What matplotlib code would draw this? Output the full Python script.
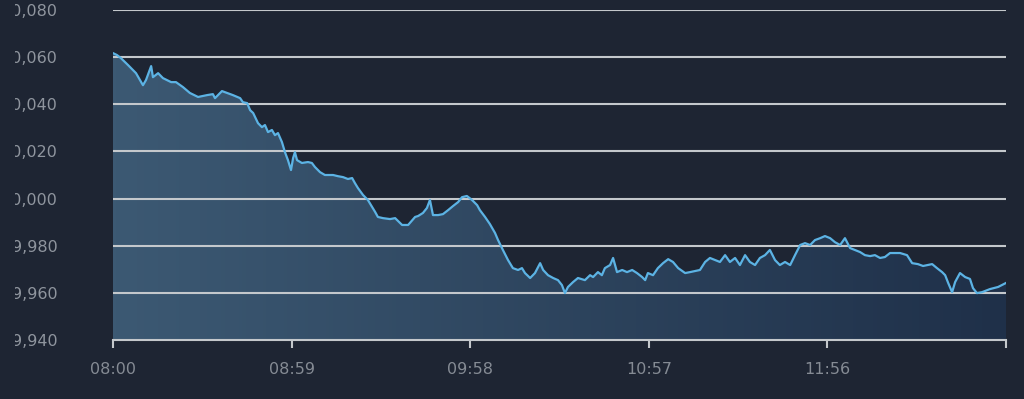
import numpy as np
import matplotlib
matplotlib.use("Agg")
import matplotlib.pyplot as plt
from matplotlib.colors import LinearSegmentedColormap
from matplotlib.patches import Rectangle

# minutes after 08:00 and price values
minutes = [
    0, 1.3, 2.6, 5, 7.6, 9.9, 10.9, 11.9, 12.6, 13.2, 14.9, 16.5, 19.2, 20.8, 23.1,
    25.4, 28.1, 31.1, 33, 33.7, 36, 37.7, 39.6, 42, 42.9, 44.3, 45.3, 46.3, 47.9,
    49.2, 50.2, 51.2, 52.5, 53.5, 54.5, 55.8, 56.8, 57.8, 58.8, 59.5, 60.1, 60.8,
    62.4, 64.4, 65.7, 66.7, 68.4, 70, 72.7, 74.3, 76, 77.6, 79, 79.9, 80.9, 82.6,
    84.2, 85.6, 86.6, 87.5, 89.2, 91.5, 93.2, 95.5, 97.5, 99.8, 100.8, 102.4, 103.7,
    104.7, 105.7, 107.4, 109, 110.7, 112.3, 114, 115.3, 116.9, 118.6, 120.3, 121.2,
    122.9, 124.5, 126.2, 127.2, 128.8, 130.5, 132.1, 133.8, 135.1, 136.1, 137.8,
    139.4, 141.1, 142.1, 143.7, 145.4, 147, 148.3, 149.3, 150.3, 152, 153.6, 155.9,
    157.6, 158.6, 160.2, 161.5, 162.5, 164.2, 165.2, 166.5, 168.2, 169.8, 171.5,
    173.1, 174.8, 175.8, 176.7, 178.4, 180, 181.7, 183.4, 185, 186.7, 189, 190.6,
    193.9, 195.6, 197.2, 200.5, 202.2, 203.8, 205.5, 207.1, 208.8, 210.4, 212.1,
    213.7, 215.4, 217, 218.7, 220.3, 222, 223.7, 225.3, 227, 228.6, 230.3, 231.9,
    233.6, 235.2, 236.9, 238.5, 240.2, 241.8, 243.5, 245.1, 246.8, 248.4, 250.1,
    251.7, 253.4, 255, 256.7, 260, 262.3, 264, 265.9, 267.6, 270.6, 272.2, 273.9,
    274.9, 275.9, 277.2, 278.2, 279.8, 281.5, 283.1, 284.1, 285.4, 287.1, 289.7,
    292.4, 295,
]
prices = [
    10.0617, 10.0609, 10.0596, 10.0566, 10.0532, 10.0481, 10.0503, 10.0537, 10.0562,
    10.0515, 10.0532, 10.0511, 10.0494, 10.0494, 10.0473, 10.0448, 10.0431, 10.0439,
    10.0443, 10.0426, 10.0456, 10.0448, 10.0439, 10.0426, 10.0409, 10.0405, 10.0375,
    10.0363, 10.0320, 10.0303, 10.0312, 10.0282, 10.0291, 10.0269, 10.0278, 10.0240,
    10.0197, 10.0163, 10.0121, 10.0172, 10.0197, 10.0163, 10.0151, 10.0155, 10.0151,
    10.0134, 10.0112, 10.0100, 10.0100, 10.0095, 10.0091, 10.0083, 10.0087, 10.0066,
    10.0045, 10.0015, 9.9994, 9.9964, 9.9943, 9.9922, 9.9917, 9.9913, 9.9917, 9.9888,
    9.9888, 9.9922, 9.9926, 9.9939, 9.9960, 9.9994, 9.9930, 9.9930, 9.9934, 9.9951,
    9.9968, 9.9985, 10.0006, 10.0011, 9.9994, 9.9972, 9.9951, 9.9922, 9.9892, 9.9854,
    9.9824, 9.9782, 9.9739, 9.9705, 9.9697, 9.9705, 9.9684, 9.9663, 9.9684, 9.9726,
    9.9697, 9.9675, 9.9663, 9.9654, 9.9633, 9.9599, 9.9625, 9.9646, 9.9663, 9.9654,
    9.9675, 9.9667, 9.9688, 9.9675, 9.9705, 9.9718, 9.9748, 9.9688, 9.9697, 9.9688,
    9.9697, 9.9684, 9.9667, 9.9654, 9.9684, 9.9675, 9.9705, 9.9726, 9.9743, 9.9731,
    9.9705, 9.9684, 9.9688, 9.9697, 9.9731, 9.9748, 9.9731, 9.9760, 9.9731, 9.9748,
    9.9718, 9.9760, 9.9731, 9.9718, 9.9748, 9.9760, 9.9782, 9.9739, 9.9718, 9.9731,
    9.9718, 9.9760, 9.9803, 9.9811, 9.9803, 9.9824, 9.9832, 9.9841, 9.9832, 9.9815,
    9.9803, 9.9832, 9.9790, 9.9782, 9.9773, 9.9760, 9.9756, 9.9760, 9.9748, 9.9752,
    9.9769, 9.9769, 9.9760, 9.9726, 9.9722, 9.9714, 9.9722, 9.9705, 9.9688, 9.9675,
    9.9642, 9.9603, 9.9646, 9.9684, 9.9667, 9.9659, 9.9620, 9.9599, 9.9603, 9.9616,
    9.9625, 9.9642,
]

x_ticks = [0, 59, 118, 177, 236, 295]
x_labels = ["08:00", "08:59", "09:58", "10:57", "11:56", ""]
y_ticks = [9.94, 9.96, 9.98, 10.00, 10.02, 10.04, 10.06, 10.08]
y_labels = ["9,940", "9,960", "9,980", "10,000", "10,020", "10,040", "10,060", "10,080"]

BG = "#1e2533"
plt.rcParams["font.family"] = "DejaVu Sans"

fig = plt.figure(figsize=(10.24, 3.99), dpi=100, facecolor=BG)
ax = fig.add_axes([113 / 1024, 59 / 399, 893 / 1024, 330 / 399])
ax.set_facecolor(BG)

ymin, ymax = 9.94, 10.08
ax.set_xlim(0, 295)
ax.set_ylim(ymin, ymax)

# gradient area under the line
poly = ax.fill_between(minutes, prices, ymin, facecolor="none", edgecolor="none")
cmap = LinearSegmentedColormap.from_list("g", ["#3c5973", "#1f3049"])
im = ax.imshow(np.linspace(0, 1, 256).reshape(1, -1), cmap=cmap, aspect="auto",
               extent=[0, 295, ymin, ymax], origin="lower", zorder=1)
im.set_clip_path(poly.get_paths()[0], transform=ax.transData)

for yv in y_ticks[1:]:
    ax.axhline(yv, color="#c4c8cc", lw=1.5, zorder=2)

ax.plot(minutes, prices, color="#5cb3e4", lw=1.6, zorder=3)

for s in ["top", "right", "left"]:
    ax.spines[s].set_visible(False)
ax.spines["bottom"].set_color("#c4c8cc")
ax.spines["bottom"].set_linewidth(1.5)
ax.spines["bottom"].set_zorder(4)

ax.set_xticks(x_ticks)
ax.set_xticklabels(x_labels)
ax.set_yticks(y_ticks)
ax.set_yticklabels(y_labels)
ax.tick_params(axis="x", colors="#c4c8cc", length=6, width=1.5, pad=10,
               labelcolor="#858b94", labelsize=11.5)
ax.tick_params(axis="y", length=0, pad=40, labelcolor="#8f959e", labelsize=11.5)

# labels are cut off at the left edge of the panel
fig.add_artist(Rectangle((0, 0), 15 / 1024, 1, transform=fig.transFigure,
                         facecolor=BG, edgecolor="none", zorder=10))

fig.savefig("out.png", dpi=100, facecolor=BG)
